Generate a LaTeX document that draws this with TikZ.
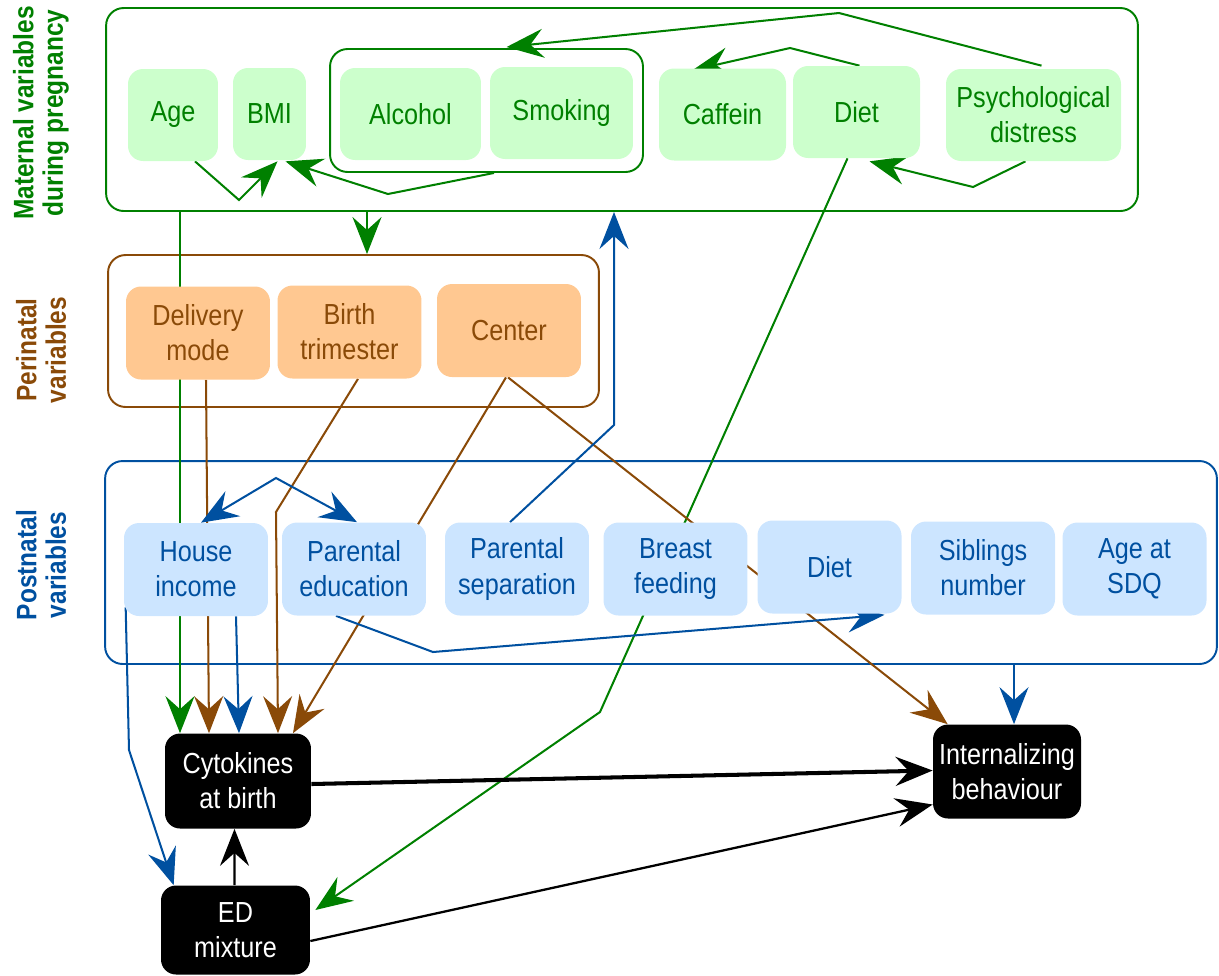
\documentclass[tikz,border=0pt]{standalone}
\usepackage{fontspec}
\setmainfont{Liberation Sans}[FakeStretch=0.87]
\usetikzlibrary{arrows.meta,calc}
\pgfdeclarelayer{bg}
\pgfsetlayers{bg,main}
\definecolor{mgreen}{RGB}{0,128,0}
\definecolor{lgreen}{RGB}{204,255,204}
\definecolor{pbrown}{RGB}{138,74,8}
\definecolor{lorange}{RGB}{255,200,145}
\definecolor{pblue}{RGB}{0,80,160}
\definecolor{lblue}{RGB}{204,229,255}
\begin{document}
\begin{tikzpicture}[x=0.02cm,y=-0.02cm,
  box/.style={font=\fontsize{16.5pt}{20pt}\selectfont, rounded corners=0.3cm, inner sep=0pt, align=center, minimum height=1.84cm},
  mnode/.style={box, fill=lgreen, text=mgreen},
  pnode/.style={box, fill=lorange, text=pbrown, minimum width=2.88cm, minimum height=1.86cm},
  bnode/.style={box, fill=lblue, text=pblue, minimum width=2.88cm, minimum height=1.86cm},
  knode/.style={box, fill=black, text=white},
  group/.style={draw, rounded corners=0.35cm, inner sep=0pt, line width=1.1pt},
  lbl/.style={rotate=90, align=center, font=\fontsize{16pt}{16.8pt}\selectfont\bfseries},
  tip/.style={-{Stealth[length=0.74cm,width=0.58cm,inset=0.26cm]}},
  tips/.style={{Stealth[length=0.74cm,width=0.58cm,inset=0.26cm]}-{Stealth[length=0.74cm,width=0.58cm,inset=0.26cm]}},
  ln/.style={line width=1.15pt},
]
\useasboundingbox (0,0) rectangle (1219,975);

% side labels
\node[lbl, text=mgreen] (lm) at (41,113) {Maternal variables\\during pregnancy};
\node[lbl, text=pbrown] (lp) at (41,350) {Perinatal\\variables};
\node[lbl, text=pblue] (lq) at (41,565) {Postnatal\\variables};

% maternal nodes
\node[mnode, minimum width=1.8cm] (age) at (173,115) {Age};
\node[mnode, minimum width=1.46cm] (bmi) at (269.5,114) {BMI};
\node[mnode, minimum width=2.82cm] (alc) at (410.5,114) {Alcohol};
\node[mnode, minimum width=2.86cm] (smk) at (561.5,113) {Smoking};
\node[mnode, minimum width=2.54cm] (caf) at (722.5,114.5) {Caffein};
\node[mnode, minimum width=2.54cm] (mdiet) at (856.5,112) {Diet};
\node[mnode, minimum width=3.5cm] (psy) at (1033.5,115) {Psychological\\distress};

% perinatal nodes
\node[pnode] (del) at (198,333) {Delivery\\mode};
\node[pnode] (bir) at (349.5,332) {Birth\\trimester};
\node[pnode] (cen) at (509,330.5) {Center};

% postnatal nodes
\node[bnode] (inc) at (196,569.5) {House\\income};
\node[bnode] (edu) at (354,569) {Parental\\education};
\node[bnode] (sep) at (517,569) {Parental\\separation};
\node[bnode] (bf) at (675.5,569) {Breast\\feeding};
\node[bnode] (pdiet) at (829.5,567) {Diet};
\node[bnode] (sib) at (983,568) {Siblings\\number};
\node[bnode] (sdq) at (1134.5,569) {Age at\\SDQ};

% outcome nodes
\node[knode, minimum width=2.92cm, minimum height=1.9cm] (cyt) at (238,781) {Cytokines\\at birth};
\node[knode, minimum width=2.98cm, minimum height=1.78cm] (ed) at (235.5,930) {ED\\mixture};
\node[knode, minimum width=2.96cm, minimum height=1.88cm] (intb) at (1007,771.5) {Internalizing\\behaviour};

\begin{pgfonlayer}{bg}
% group boxes
\node[group, draw=mgreen, minimum width=20.64cm, minimum height=4.06cm] (mat) at (622,109.5) {};
\node[group, draw=mgreen, minimum width=6.26cm, minimum height=2.46cm] (grp) at (486.5,110.5) {};
\node[group, draw=pbrown, minimum width=9.82cm, minimum height=3.04cm] (peri) at (353.5,331) {};
\node[group, draw=pblue, minimum width=22.24cm, minimum height=4.06cm] (post) at (661,562.5) {};

% green connectors
\draw[ln, tip, mgreen] ($(age.south)+(22,0)$) -- (239,200) -- ($(bmi.south)+(8,1)$);
\draw[ln, tip, mgreen] ($(grp.south)+(7.5,0)$) -- (388,194) -- ($(bmi.south)+(16,1)$);
\draw[ln, tip, mgreen] ($(psy.north)+(8,-3)$) -- (839,13) -- ($(grp.north)+(20,-1)$);
\draw[ln, tip, mgreen] ($(mdiet.north)+(3,0)$) -- (790,48) -- ($(caf.north)+(-30,2)$);
\draw[ln, tip, mgreen] ($(psy.south)+(-8,0)$) -- (973,187) -- ($(mdiet.south)+(13,3)$);
\draw[ln, tip, mgreen] ($(mdiet.south)+(-9,0)$) -- (600,712) -- ($(ed.east)+(5,-20)$);
\coordinate (a1) at ($(peri.north)+(13.5,0)$);
\draw[ln, tip, mgreen] (mat.south -| a1) -- (a1);
\coordinate (a2) at ($(cyt.north)+(-58,0)$);
\draw[ln, tip, mgreen] (mat.south -| a2) -- (a2);

% brown connectors
\draw[ln, tip, pbrown] ($(del.south)+(8,0)$) -- ($(cyt.north)+(-29,0)$);
\draw[ln, tip, pbrown] ($(bir.south)+(8.5,0)$) -- (276,512) -- ($(cyt.north)+(40,0)$);
\draw[ln, tip, pbrown] ($(cen.south)+(-3,0)$) -- ($(cyt.north)+(55,0)$);
\draw[ln, tip, pbrown] ($(cen.south)+(-1,0)$) -- ($(intb.north west)+(15,0)$);

% blue connectors
\draw[ln, tips, pblue] ($(inc.north)+(5,0)$) -- (276,478) -- ($(edu.north)+(3,0)$);
\coordinate (a3) at (614,425);
\draw[ln, tip, pblue] ($(sep.north)+(-7,0)$) -- (a3) -- (mat.south -| a3);
\draw[ln, tip, pblue] ($(edu.south)+(-18,0)$) -- (433,652) -- ($(pdiet.south)+(55,1)$);
\draw[ln, tip, pblue] ($(inc.south west)+(2,-9)$) -- (129,750) -- ($(ed.north west)+(13,0)$);
\draw[ln, tip, pblue] ($(inc.south)+(40,0)$) -- ($(cyt.north)+(1,0)$);
\coordinate (a4) at ($(intb.north)+(7,0)$);
\draw[ln, tip, pblue] (post.south -| a4) -- (a4);

% black connectors
\draw[line width=2.3pt, tip] ($(cyt.east)+(0,3)$) -- ($(intb.west)+(0,-1)$);
\draw[line width=1.3pt, tip] ($(ed.east)+(0,11)$) -- ($(intb.west)+(0,33)$);
\draw[ln, tip] ($(ed.north)+(-1,0)$) -- ($(cyt.south)+(-3.5,0)$);
\end{pgfonlayer}
\end{tikzpicture}
\end{document}
